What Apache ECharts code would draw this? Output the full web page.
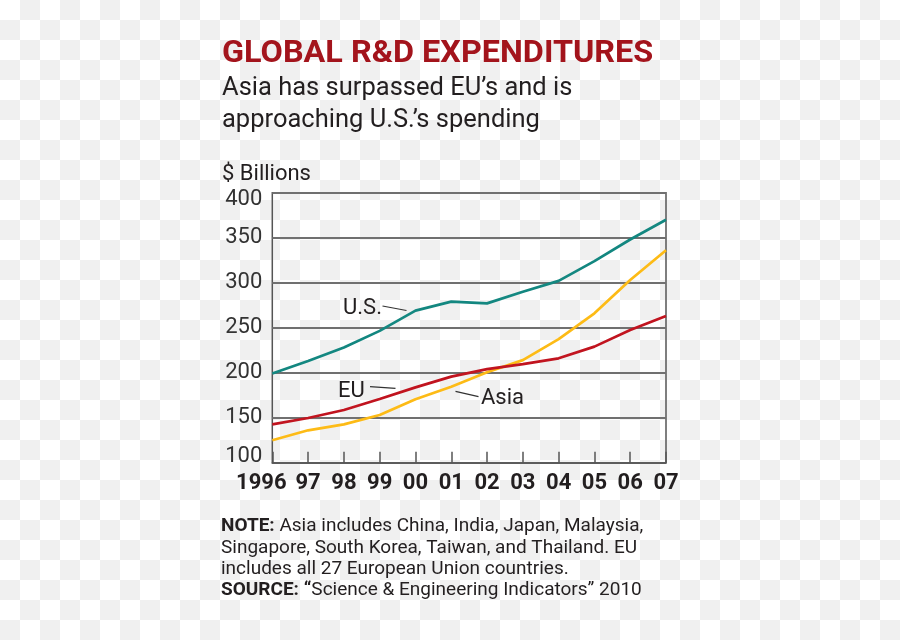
<!DOCTYPE html>
<html><head><meta charset="utf-8">
<script src="https://cdn.jsdelivr.net/npm/echarts@6/dist/echarts.min.js"></script>
<style>
html,body{margin:0;padding:0;}
#chart{width:900px;height:640px;background-color:#fff;background-image:conic-gradient(#f0f0f0 0 25%, #fff 0 50%, #f0f0f0 0 75%, #fff 0);background-size:40px 40px;}
</style></head><body><div id="chart"></div>
<script>
const years = ['1996','97','98','99','00','01','02','03','04','05','06','07'];
const usValues = [199, 213, 228, 246.5, 269, 279, 277, 290, 302, 324, 348, 370];
const euValues = [142.5, 149.7, 158.6, 170.8, 183.7, 195.6, 204, 209.5, 216, 229, 247.5, 263];
const asiaValues = [125, 136, 142.6, 153, 170.4, 184.4, 200.4, 214, 237.4, 266, 303, 336];
const yMin = 100, yMax = 400, yStep = 50;
const titleText = 'GLOBAL R&D EXPENDITURES';
const subtitleLines = ['Asia has surpassed EU\u2019s and is', 'approaching U.S.\u2019s spending'];
const unitText = '$ Billions';
const noteLines = [
  '{b|NOTE:} Asia includes China, India, Japan, Malaysia,',
  'Singapore, South Korea, Taiwan, and Thailand. EU',
  'includes all 27 European Union countries.',
  '{b|SOURCE: \u201c}Science & Engineering Indicators\u201d 2010'
];

const chart = echarts.init(document.getElementById('chart'), null, {renderer:'canvas'});
const ink = '#231f20';
const noteY = [526, 548, 569.5, 590];
const graphics = [
  {type:'text', x:222, y:54, scaleX:1.045, style:{text:titleText, font:'bold 31px Roboto', fill:'#a3141c', textVerticalAlign:'middle'}},
  {type:'text', x:222, y:89, scaleX:1.02, style:{text:subtitleLines[0], font:'25px Roboto', fill:ink, textVerticalAlign:'middle'}},
  {type:'text', x:222, y:121, scaleX:1.02, style:{text:subtitleLines[1], font:'25px Roboto', fill:ink, textVerticalAlign:'middle'}},
  {type:'text', x:222, y:174.5, style:{text:unitText, font:'22px Roboto', fill:ink, textVerticalAlign:'middle'}},
  {type:'text', x:343, y:308, style:{text:'U.S.', font:'22px Roboto', fill:ink, textVerticalAlign:'middle'}},
  {type:'text', x:338, y:391, style:{text:'EU', font:'22px Roboto', fill:ink, textVerticalAlign:'middle'}},
  {type:'text', x:481, y:398, style:{text:'Asia', font:'22px Roboto', fill:ink, textVerticalAlign:'middle'}},
  {type:'line', shape:{x1:382.5, y1:306, x2:406.5, y2:310.5}, style:{stroke:'#333', lineWidth:1.2}},
  {type:'line', shape:{x1:370, y1:386.7, x2:395.5, y2:388.3}, style:{stroke:'#333', lineWidth:1.2}},
  {type:'line', shape:{x1:455.5, y1:391.3, x2:478.5, y2:396.7}, style:{stroke:'#333', lineWidth:1.2}}
];
noteLines.forEach((t, i) => {
  graphics.push({type:'text', x:221, y:noteY[i], style:{text:t, font:'19px Roboto', fill:ink, textVerticalAlign:'middle',
    rich:{b:{fontFamily:'Roboto', fontWeight:'bold', fontSize:19, fill:ink}}}});
});

const labelRich = {
  top:{fontFamily:'Roboto', fontSize:22, color:'#333', padding:[13,0,0,0]},
  bot:{fontFamily:'Roboto', fontSize:22, color:'#333', padding:[0,0,13,0]},
  n:{fontFamily:'Roboto', fontSize:22, color:'#333'}
};
const xRich = {
  first:{fontFamily:'Roboto', fontWeight:'bold', fontSize:22, color:ink, padding:[0,22,0,0]},
  n:{fontFamily:'Roboto', fontWeight:'bold', fontSize:22, color:ink}
};

chart.setOption({
  animation:false,
  backgroundColor:'transparent',
  grid:{left:272.3, right:234, top:192.7, bottom:177.3, show:true, borderColor:'#555', borderWidth:1.5, backgroundColor:'transparent'},
  xAxis:{type:'category', data:years, boundaryGap:false,
    axisLine:{show:true, lineStyle:{color:'#555', width:1.5}},
    axisTick:{show:true, inside:true, length:11, interval:0, lineStyle:{color:'#555', width:1.5}},
    axisLabel:{interval:0, color:ink, fontFamily:'Roboto', fontWeight:'bold', fontSize:22, margin:10,
      formatter:(v, i) => i === 0 ? '{first|' + v + '}' : '{n|' + v + '}', rich:xRich},
    splitLine:{show:false}},
  yAxis:{type:'value', min:yMin, max:yMax, interval:yStep,
    axisLine:{show:false}, axisTick:{show:false},
    splitLine:{show:true, lineStyle:{color:'#707070', width:1.8}},
    axisLabel:{margin:10, color:'#333', fontFamily:'Roboto', fontSize:22,
      formatter:v => v === yMax ? '{top|' + v + '}' : (v === yMin ? '{bot|' + v + '}' : '{n|' + v + '}'),
      rich:labelRich}},
  series:[
    {name:'Asia', type:'line', data:asiaValues, symbol:'none', lineStyle:{color:'#fdbb16', width:2.7}, z:3},
    {name:'EU', type:'line', data:euValues, symbol:'none', lineStyle:{color:'#c1141f', width:2.7}, z:4},
    {name:'U.S.', type:'line', data:usValues, symbol:'none', lineStyle:{color:'#138780', width:2.7}, z:5}
  ],
  graphic:graphics
});
</script></body></html>
